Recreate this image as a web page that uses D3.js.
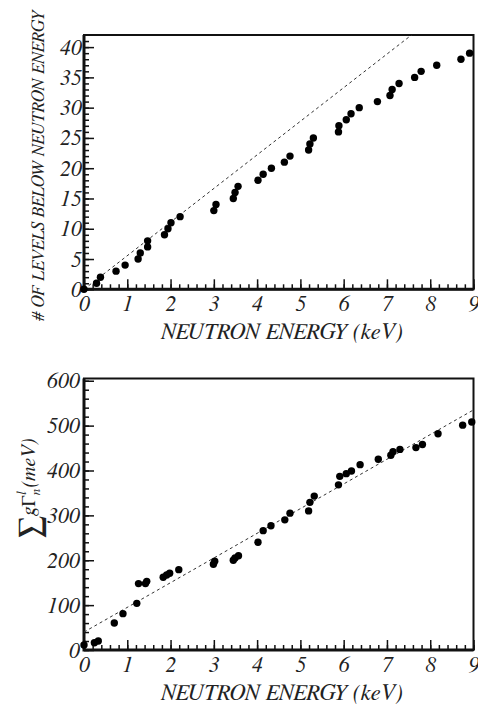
<!DOCTYPE html>
<html>
<head>
<meta charset="utf-8">
<script src="https://cdn.jsdelivr.net/npm/d3@7"></script>
<style>
    body { margin: 0; background: #fff; }
</style>
</head>
<body>
<div id="chart"></div>
<script>
// Top panel: cumulative number of levels vs neutron energy (keV)
const levelEnergy = [0, 0.29, 0.38, 0.74, 0.95, 1.25, 1.30, 1.47, 1.47, 1.86, 1.94, 2.01, 2.22, 3.00, 3.05, 3.45, 3.49, 3.56, 4.02, 4.14,
    4.33, 4.63, 4.76, 5.19, 5.22, 5.30, 5.88, 5.89, 6.06, 6.17, 6.36, 6.78, 7.07, 7.12, 7.28, 7.64, 7.79, 8.15, 8.71, 8.91];
const levelCount = [0, 1, 2, 3, 4, 5, 6, 7, 8, 9, 10, 11, 12, 13, 14, 15, 16, 17, 18, 19,
    20, 21, 22, 23, 24, 25, 26, 27, 28, 29, 30, 31, 32, 33, 34, 35, 36, 37, 38, 39];
const levelFit = [5.55, 0];          // slope, intercept

// Bottom panel: cumulative sum of g*Gamma_n^l (meV)
const widthEnergy = [0, 0.24, 0.33, 0.70, 0.90, 1.22, 1.26, 1.42, 1.45, 1.83, 1.91, 1.98, 2.19, 2.99, 3.02, 3.45, 3.49, 3.57, 4.02, 4.14,
    4.32, 4.64, 4.76, 5.19, 5.22, 5.32, 5.88, 5.91, 6.06, 6.18, 6.38, 6.80, 7.09, 7.14, 7.30, 7.67, 7.82, 8.18, 8.75, 8.96];
const widthSum = [11, 16, 20, 60, 81, 104, 148, 148, 153, 162, 167, 171, 179, 191, 198, 200, 205, 210, 240, 266,
    277, 290, 305, 310, 329, 343, 368, 387, 393, 399, 413, 425, 434, 442, 447, 451, 458, 482, 501, 508];
const widthFit = [55, 40];           // slope, intercept

const xTicks = [0, 1, 2, 3, 4, 5, 6, 7, 8, 9];
const levelTicks = [0, 5, 10, 15, 20, 25, 30, 35, 40];
const widthTicks = [0, 100, 200, 300, 400, 500, 600];

const serif = "FreeSerif, 'Liberation Serif', serif";

const svg = d3.select("#chart").append("svg")
    .attr("width", 478)
    .attr("height", 708)
    .attr("font-family", serif);

function drawPanel(opts) {
    let m = opts.margin;
    let g = svg.append("g").attr("transform", "translate(" + m.left + "," + m.top + ")");

    let x = d3.scaleLinear().domain([0, 9]).range([0, opts.width]);
    let y = d3.scaleLinear().domain(opts.yDomain).range([opts.height, 0]);

    // clip for the fit line
    svg.append("clipPath").attr("id", opts.id + "-clip")
        .append("rect").attr("width", opts.width).attr("height", opts.height);

    // minor ticks
    g.append("g")
        .attr("transform", "translate(0," + opts.height + ")")
        .call(d3.axisBottom(x).tickValues(d3.range(0, 9.001, 0.2)).tickSize(-5).tickFormat(""))
        .call(a => a.select(".domain").remove());
    g.append("g")
        .call(d3.axisLeft(y).tickValues(d3.range(0, opts.yDomain[1], opts.yMinor)).tickSize(-5).tickFormat(""))
        .call(a => a.select(".domain").remove());

    // major ticks + labels
    let xAxis = g.append("g")
        .attr("transform", "translate(0," + opts.height + ")")
        .call(d3.axisBottom(x).tickValues(xTicks).tickSize(-10).tickPadding(6).tickFormat(d3.format("d")));
    xAxis.select(".domain").remove();

    let yAxis = g.append("g")
        .call(d3.axisLeft(y).tickValues(opts.yTicks).tickSize(-10).tickPadding(opts.yPad).tickFormat(d3.format("d")));
    yAxis.select(".domain").remove();

    g.selectAll(".tick line").attr("stroke", "#111").attr("stroke-width", 1.5);
    g.selectAll("g").attr("font-family", serif);
    g.selectAll(".tick text")
        .style("font-family", serif)
        .style("font-size", "22px")
        .style("font-style", "italic")
        .attr("fill", "#222");

    // frame
    g.append("rect")
        .attr("width", opts.width)
        .attr("height", opts.height)
        .attr("fill", "none")
        .attr("stroke", "#111")
        .attr("stroke-width", 2);
    g.append("path")
        .attr("d", "M0,0V" + opts.height + "H" + opts.width)
        .attr("fill", "none")
        .attr("stroke", "#111")
        .attr("stroke-width", 3);

    // fit line
    let fit = opts.fit;
    g.append("line")
        .attr("clip-path", "url(#" + opts.id + "-clip)")
        .attr("x1", x(0)).attr("y1", y(fit[1]))
        .attr("x2", x(9)).attr("y2", y(fit[0] * 9 + fit[1]))
        .attr("stroke", "#333")
        .attr("stroke-width", 1)
        .attr("stroke-dasharray", "3,3");

    // points
    g.selectAll(".dot")
        .data(opts.xs.map((d, i) => ({ e: d, v: opts.ys[i] })))
        .enter().append("circle")
        .attr("class", "dot")
        .attr("cx", d => x(d.e))
        .attr("cy", d => y(d.v))
        .attr("r", 3.7)
        .attr("fill", "#000");

    // x title
    g.append("text")
        .attr("x", opts.width / 2 + 3)
        .attr("y", opts.height + 50)
        .style("font-family", serif)
        .style("text-anchor", "middle")
        .style("font-size", "23px")
        .style("font-style", "italic")
        .attr("fill", "#222")
        .text("NEUTRON ENERGY (keV)");

    return g;
}

drawPanel({
    id: "levels",
    margin: { top: 35, left: 84 },
    width: 389.5,
    height: 254.3,
    yDomain: [0, 42],
    yTicks: levelTicks,
    yMinor: 1,
    yPad: 2,
    fit: levelFit,
    xs: levelEnergy,
    ys: levelCount
});

drawPanel({
    id: "widths",
    margin: { top: 378.5, left: 84 },
    width: 389.5,
    height: 271.5,
    yDomain: [0, 605],
    yTicks: widthTicks,
    yMinor: 20,
    yPad: 4,
    fit: widthFit,
    xs: widthEnergy,
    ys: widthSum
});

// y titles
svg.append("text")
    .attr("transform", "translate(44,321) rotate(-90)")
    .style("font-family", serif)
    .style("font-size", "18px")
    .style("font-style", "italic")
    .attr("fill", "#222")
    .text("# OF LEVELS BELOW NEUTRON ENERGY");

let lbl = svg.append("text")
    .attr("transform", "translate(35,538) rotate(-90)")
    .style("font-family", serif)
    .style("font-size", "20px")
    .attr("fill", "#222");
lbl.append("tspan").attr("dy", 7).style("font-size", "35px").text("∑");
lbl.append("tspan").attr("dy", -7).style("font-style", "italic").text("g");
lbl.append("tspan").text("Γ");
lbl.append("tspan").attr("dy", 5).style("font-size", "13px").style("font-style", "italic").text("n");
lbl.append("tspan").attr("dx", -6).attr("dy", -14).style("font-size", "13px").style("font-style", "italic").text("l");
lbl.append("tspan").attr("dx", 4).attr("dy", 9).style("font-style", "italic").text("(meV)");
</script>
</body>
</html>
